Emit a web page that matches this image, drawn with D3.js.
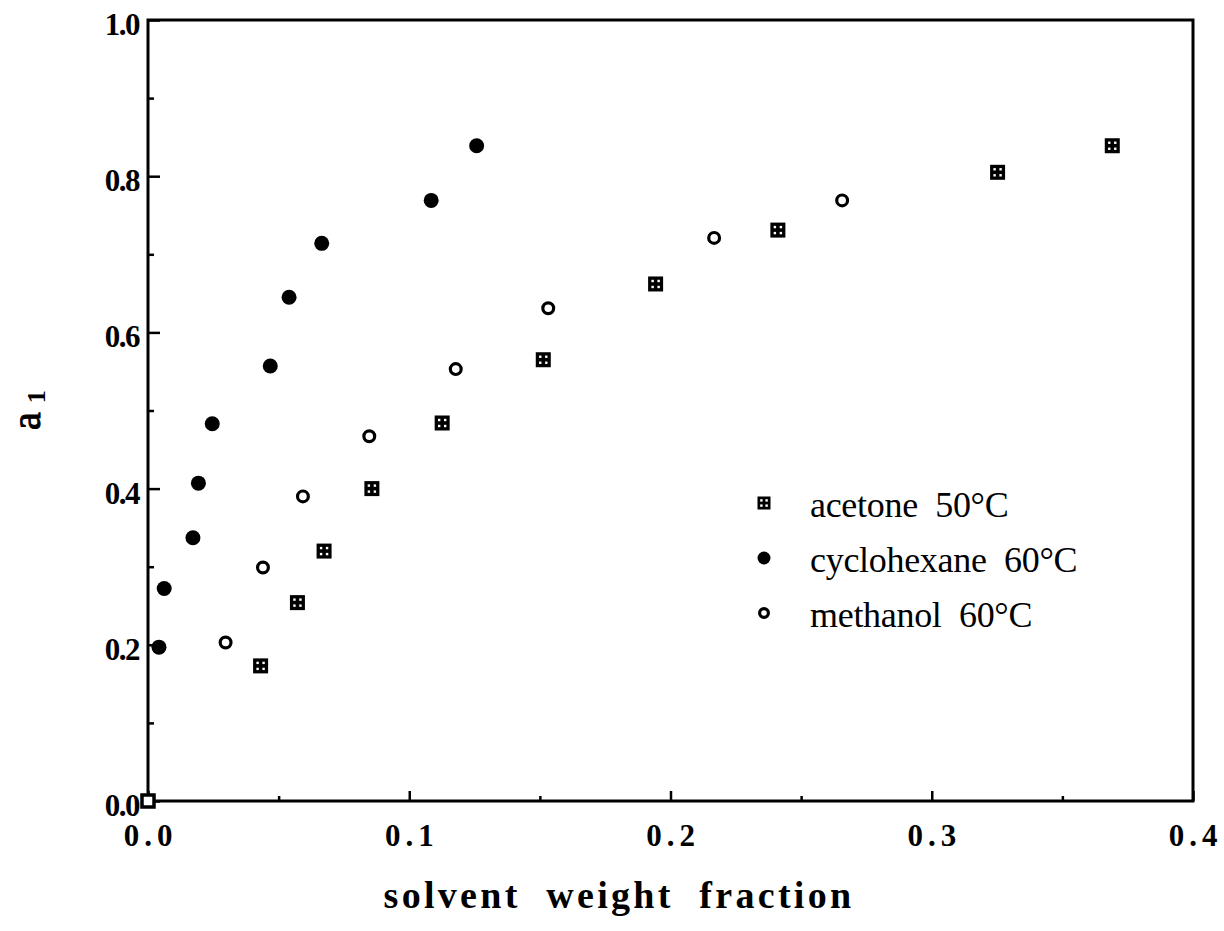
<!DOCTYPE html>
<html><head><meta charset="utf-8">
<script src="https://cdn.jsdelivr.net/npm/d3@7"></script>
<style>
html,body{margin:0;padding:0;background:#fff;}
svg{display:block;}
text{font-family:"Liberation Serif","Times New Roman",serif;fill:#000;}
</style></head>
<body>
<svg id="chart" width="1224" height="931"></svg>
<script>
// ---- data ----
const acetoneX = [0.0, 0.0431, 0.0572, 0.0674, 0.0857, 0.1126, 0.1513, 0.1943, 0.2411, 0.3252, 0.3691];
const acetoneY = [0.0, 0.173, 0.254, 0.320, 0.400, 0.484, 0.565, 0.662, 0.731, 0.805, 0.839];
const cyclohexaneX = [0.0042, 0.0062, 0.0172, 0.0193, 0.0246, 0.0468, 0.0540, 0.0665, 0.1084, 0.1258];
const cyclohexaneY = [0.197, 0.272, 0.337, 0.407, 0.483, 0.557, 0.645, 0.714, 0.769, 0.839];
const methanolX = [0.0297, 0.0440, 0.0593, 0.0847, 0.1178, 0.1532, 0.2167, 0.2657];
const methanolY = [0.203, 0.299, 0.390, 0.467, 0.553, 0.631, 0.721, 0.769];
const seriesNames = ["acetone", "cyclohexane", "methanol"];
const legendLabels = ["acetone  50\u00B0C", "cyclohexane  60\u00B0C", "methanol  60\u00B0C"];
const xTickValues = [0, 0.1, 0.2, 0.3, 0.4];
const xTickLabels = ["0.0", "0.1", "0.2", "0.3", "0.4"];
const yTickValues = [0, 0.2, 0.4, 0.6, 0.8, 1.0];
const yTickLabels = ["0.0", "0.2", "0.4", "0.6", "0.8", "1.0"];
const xMinorTicks = [0.05, 0.15, 0.25, 0.35];
const yMinorTicks = [0.1, 0.3, 0.5, 0.7, 0.9];
const xTitle = "solvent  weight  fraction";

// ---- layout ----
const L = 148, R = 1193, T = 20, B = 801;
const svg = d3.select("#chart");
const x = d3.scaleLinear().domain([0, 0.4]).range([L, R]);
const y = d3.scaleLinear().domain([0, 1]).range([B, T]);

const zip = (xs, ys) => xs.map((v, i) => ({x: v, y: ys[i]}));
const data = {
  acetone: zip(acetoneX, acetoneY),
  cyclohexane: zip(cyclohexaneX, cyclohexaneY),
  methanol: zip(methanolX, methanolY)
};

// axes (ticks inside)
const xAxis = d3.axisBottom(x).tickValues(xTickValues).tickSize(-10).tickFormat("");
const xMinor = d3.axisBottom(x).tickValues(xMinorTicks).tickSize(-5).tickFormat("");
const yAxis = d3.axisLeft(y).tickValues(yTickValues).tickSize(-12).tickFormat("");
const yMinor = d3.axisLeft(y).tickValues(yMinorTicks).tickSize(-6).tickFormat("");

function styleAxis(g){
  g.select(".domain").remove();
  g.selectAll("line").attr("stroke", "#000").attr("stroke-width", 2.5);
}
svg.append("g").attr("transform", `translate(0,${B})`).call(xAxis).call(styleAxis);
svg.append("g").attr("transform", `translate(0,${B})`).call(xMinor).call(styleAxis);
svg.append("g").attr("transform", `translate(${L},0)`).call(yAxis).call(styleAxis);
svg.append("g").attr("transform", `translate(${L},0)`).call(yMinor).call(styleAxis);

// frame
svg.append("rect").attr("x", L).attr("y", T).attr("width", R - L).attr("height", B - T)
  .attr("fill", "none").attr("stroke", "#000").attr("stroke-width", 3);

// tick labels
svg.append("g").selectAll("text").data(xTickValues).join("text")
  .attr("x", d => x(d)).attr("y", B + 45)
  .attr("text-anchor", "middle")
  .attr("font-size", 31).attr("font-weight", "bold").attr("letter-spacing", 5)
  .attr("dx", 2.5)
  .text((d, i) => xTickLabels[i]);
svg.append("g").selectAll("text").data(yTickValues).join("text")
  .attr("x", L - 9).attr("y", d => y(d) + 15)
  .attr("text-anchor", "end")
  .attr("font-size", 31).attr("font-weight", "bold").attr("letter-spacing", -1.5)
  .text((d, i) => yTickLabels[i]);

// axis titles
svg.append("text").attr("x", 619).attr("y", 908).attr("text-anchor", "middle")
  .attr("font-size", 38).attr("font-weight", "bold").attr("letter-spacing", 3.3)
  .style("white-space", "pre").text(xTitle);
const yl = svg.append("text").attr("transform", "translate(40,430) rotate(-90)")
  .attr("font-size", 40);
yl.append("tspan").attr("stroke", "#000").attr("stroke-width", 1).text("a");
yl.append("tspan").attr("dx", 9).attr("dy", 5).attr("font-size", 26).attr("font-weight", "bold").text("1");

// markers
function drawMarker(g, name, size){
  if (name === "acetone"){
    g.append("rect").attr("x", -size/2).attr("y", -size/2).attr("width", size).attr("height", size).attr("fill", "#000");
    const o = size * 0.2;
    [[-o,-o],[o,-o],[-o,o],[o,o]].forEach(p => {
      g.append("rect").attr("x", p[0]-1.2).attr("y", p[1]-1.2).attr("width", 2.4).attr("height", 2.4).attr("fill", "#fff");
    });
  } else if (name === "cyclohexane"){
    g.append("circle").attr("r", size/2).attr("fill", "#000");
  } else {
    g.append("circle").attr("r", size/2 - 1.6).attr("fill", "#fff").attr("stroke", "#000").attr("stroke-width", 3.2);
  }
}
function drawOrigin(g){
  g.append("rect").attr("x", -6).attr("y", -6).attr("width", 12).attr("height", 12)
    .attr("fill", "#fff").attr("stroke", "#000").attr("stroke-width", 3.5);
}

seriesNames.forEach(name => {
  const size = name === "methanol" ? 14 : 15;
  svg.append("g").selectAll("g").data(data[name]).join("g")
    .attr("transform", d => `translate(${x(d.x)},${y(d.y)})`)
    .each(function(d){
      const g = d3.select(this);
      if (d.x === 0 && d.y === 0) drawOrigin(g); else drawMarker(g, name, size);
    });
});

// legend
const legendY = [503, 558, 613];
const lg = svg.append("g");
seriesNames.forEach((name, i) => {
  const g = lg.append("g").attr("transform", `translate(764,${legendY[i]})`);
  drawMarker(g, name, name === "methanol" ? 12 : 13);
  lg.append("text").attr("x", 810).attr("y", legendY[i] + 14)
    .attr("font-size", 36).attr("letter-spacing", -0.3).style("white-space", "pre").text(legendLabels[i]);
});
</script>
</body></html>
